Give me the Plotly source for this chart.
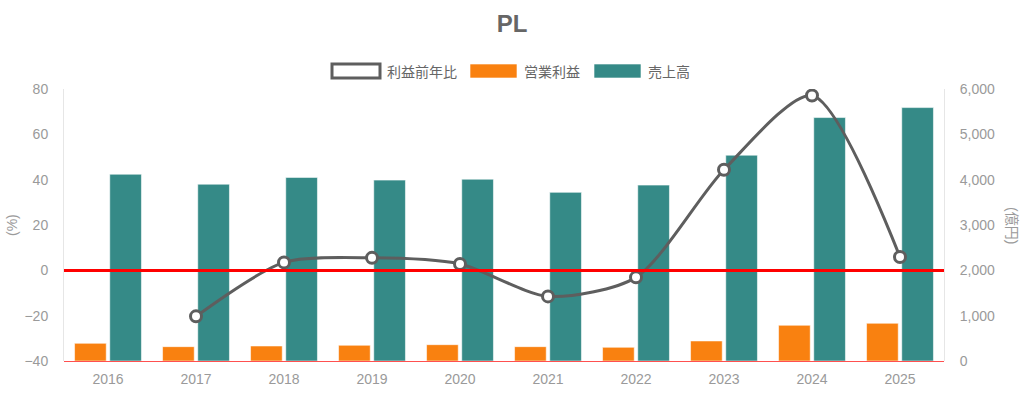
import plotly.graph_objects as go

years = ["2016", "2017", "2018", "2019", "2020", "2021", "2022", "2023", "2024", "2025"]
sales = [4120, 3900, 4050, 3990, 4010, 3720, 3880, 4540, 5370, 5590]          # 売上高 (億円)
op_profit = [390, 316, 331, 347, 360, 316, 302, 442, 788, 832]               # 営業利益 (億円)
profit_yoy = [None, -20.3, 3.5, 5.5, 2.8, -11.5, -3.1, 44.4, 77.1, 5.9]      # 利益前年比 (%)

left_ticks = [-40, -20, 0, 20, 40, 60, 80]
right_ticks = [0, 1000, 2000, 3000, 4000, 5000, 6000]

TEAL = "#358a87"
ORANGE = "#f98110"
GRAY_LINE = "#5e5e5e"
TICK = "#9a9a9a"
FONT = "Liberation Sans, Arial, Noto Sans CJK JP, sans-serif"

W, H = 1024, 395
L, T = 64, 89
PW, PH = 880, 272
R, B = W - L - PW, H - T - PH

fig = go.Figure()

fig.add_trace(go.Bar(
    x=years, y=op_profit, name="営業利益", yaxis="y",
    marker=dict(color=ORANGE, line=dict(color="rgba(255,255,255,0.55)", width=1)),
    showlegend=False,
))
fig.add_trace(go.Bar(
    x=years, y=sales, name="売上高", yaxis="y",
    marker=dict(color=TEAL, line=dict(color="rgba(255,255,255,0.55)", width=1)),
    showlegend=False,
))
fig.add_trace(go.Scatter(
    x=years, y=profit_yoy, name="利益前年比", yaxis="y2",
    mode="lines+markers",
    line=dict(color=GRAY_LINE, width=3, shape="spline", smoothing=0.75),
    marker=dict(size=11, color="white", line=dict(color=GRAY_LINE, width=3)),
    connectgaps=False,
    showlegend=False,
))

fig.update_layout(
    width=W, height=H,
    margin=dict(l=L, r=R, t=T, b=B, autoexpand=False),
    paper_bgcolor="white", plot_bgcolor="white",
    font=dict(family=FONT, color=TICK, size=14),
    barmode="group", bargap=0.2, bargroupgap=0.1,
    title=dict(text="<b>PL</b>", x=0.5, xanchor="center", y=1 - 24 / H, yanchor="middle",
               font=dict(size=24, color="#666666", family=FONT)),
    xaxis=dict(
        type="category", range=[-0.5, len(years) - 0.5], automargin=False,
        showgrid=False, zeroline=False, showline=False,
        tickfont=dict(size=14, color=TICK), ticks="", ticklabelstandoff=8,
    ),
    yaxis=dict(
        side="right", range=[0, 6000], tickvals=right_ticks, tickformat=",", automargin=False,
        showgrid=False, zeroline=True, zerolinecolor="#ff5050", zerolinewidth=1,
        showline=True, linecolor="#e6e6e6", linewidth=1,
        tickfont=dict(size=14, color=TICK), ticks="", ticklabelstandoff=12,
    ),
    yaxis2=dict(
        side="left", overlaying="y", range=[-40, 80], tickvals=left_ticks, automargin=False,
        showgrid=False, zeroline=True, zerolinecolor="#ff0000", zerolinewidth=3,
        showline=True, linecolor="#e6e6e6", linewidth=1,
        tickfont=dict(size=14, color=TICK), ticks="", ticklabelstandoff=12,
    ),
    showlegend=False,
)

def px_x(p):
    return (p - L) / PW

def px_y(p):
    return (T + PH - p) / PH

# axis titles
fig.add_annotation(text="(%)", xref="paper", yref="paper", x=px_x(12), y=px_y(225),
                   xanchor="center", yanchor="middle",
                   textangle=-90, showarrow=False, font=dict(size=14, color=TICK))
fig.add_annotation(text="(億円)", xref="paper", yref="paper", x=px_x(1012), y=px_y(225),
                   xanchor="center", yanchor="middle",
                   textangle=90, showarrow=False, font=dict(size=14, color=TICK))

# custom legend (Chart.js-like wide boxes)
legend_items = [
    ("利益前年比", 332, 380, "white", GRAY_LINE, 3),
    ("営業利益", 470, 517, ORANGE, "rgba(255,255,255,0.6)", 1),
    ("売上高", 594, 641, TEAL, "rgba(255,255,255,0.6)", 1),
]
for label, x0, x1, fill, border, bw in legend_items:
    fig.add_shape(type="rect", xref="paper", yref="paper",
                  x0=px_x(x0), x1=px_x(x1), y0=px_y(78), y1=px_y(64),
                  fillcolor=fill, line=dict(color=border, width=bw))
    fig.add_annotation(text=label, xref="paper", yref="paper",
                       x=px_x(x1 + 5), y=px_y(71), xanchor="left", yanchor="middle",
                       showarrow=False,
                       font=dict(size=14, color="#666666", family="Noto Sans CJK JP, sans-serif"))

try:
    fig.update_layout(yaxis2=dict(zerolinelayer="above traces"))
except Exception:
    pass

fig.write_html(
    "out.html",
    config={"displayModeBar": False},
    post_script="document.body.style.margin='0';document.body.style.overflow='hidden';",
)
